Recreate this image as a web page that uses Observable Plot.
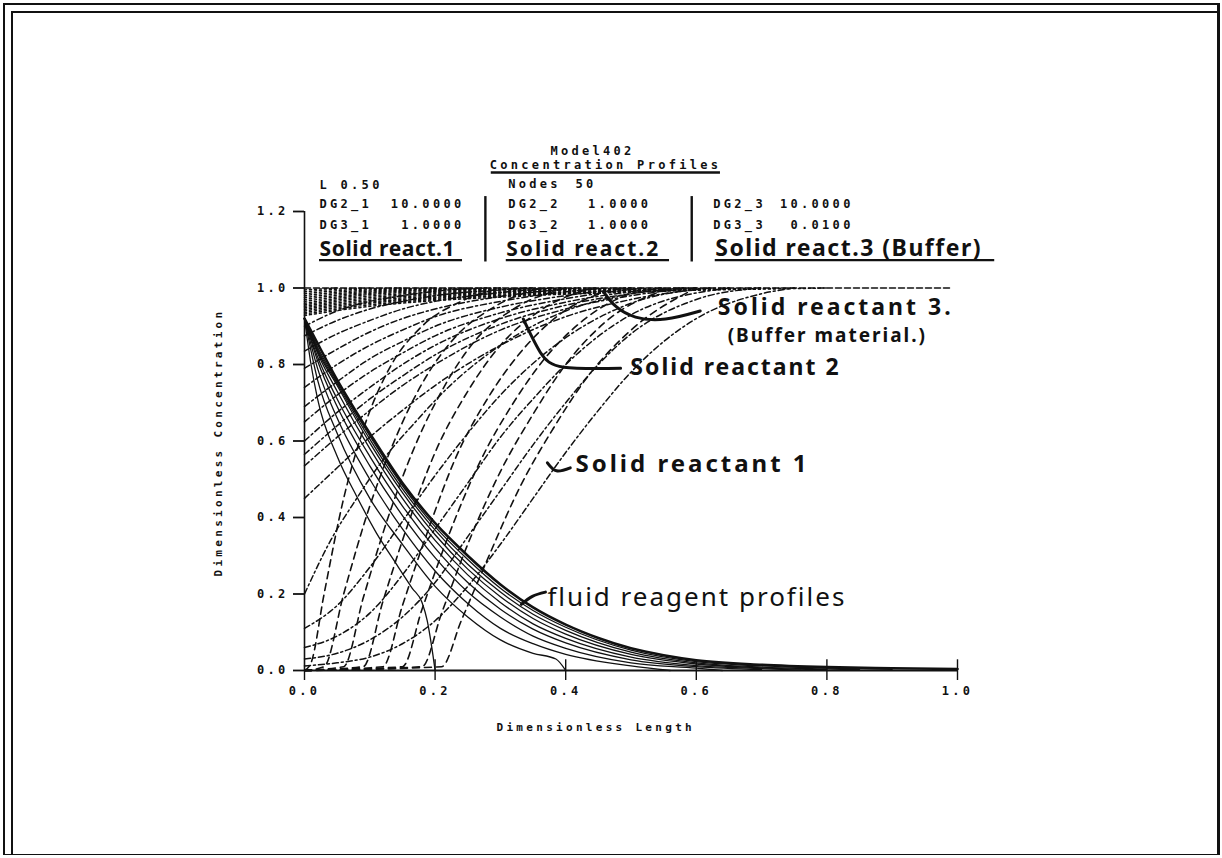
<!DOCTYPE html>
<html>
<head>
<meta charset="utf-8">
<script src="https://cdn.jsdelivr.net/npm/d3@7"></script>
<script src="https://cdn.jsdelivr.net/npm/@observablehq/plot@0.6"></script>
<style>
  html, body { margin: 0; padding: 0; background: #fff; }
  #page { position: relative; width: 1222px; height: 858px; overflow: hidden; background: #fff; }
  #page .edge { position: absolute; background: #111; }
  #page svg { position: absolute; left: 0; top: 0; }
  g[aria-description="print"] text { letter-spacing: 3.3px; }
  g[aria-description="hand-1"] text { letter-spacing: 0.6px; }
  g[aria-description="hand-2"] text { letter-spacing: 2px; }
  g[aria-description="hand-3"] text { letter-spacing: 1.5px; }
  g[aria-description="hand-4"] text { letter-spacing: 3px; }
</style>
</head>
<body>
<div id="page">
  <div class="edge" style="left:3px;top:3px;width:2px;height:852px"></div>
  <div class="edge" style="left:11px;top:11px;width:2px;height:844px"></div>
  <div class="edge" style="left:3px;top:3px;width:1216px;height:2px"></div>
  <div class="edge" style="left:11px;top:11px;width:1208px;height:2px"></div>
  <div class="edge" style="left:1217px;top:3px;width:3px;height:852px"></div>
  <div class="edge" style="left:3px;top:854px;width:1216px;height:1px"></div>
</div>
<script>
// ---- run parameters shown in the header ----
const modelName = "Model402";
const slabLength = 0.50;
const nodeCount = 50;
const dg2 = [10.0, 1.0, 10.0];
const dg3 = [1.0, 1.0, 0.01];
const solidHeadings = ["Solid react.1", "Solid react.2", "Solid react.3 (Buffer)"];

// ---- axes ----
const xTicks = [0, 0.2, 0.4, 0.6, 0.8, 1.0];
const yTicks = [0, 0.2, 0.4, 0.6, 0.8, 1.0, 1.2];

// ---- fluid reagent profiles, successive times (x, concentration) ----
const fluidProfiles = [
  [[0,0.92],[0.01,0.80],[0.02,0.71],[0.05,0.56],[0.08,0.455],[0.11,0.36],[0.14,0.28],[0.165,0.215],[0.18,0.178],[0.188,0.13],[0.195,0.06],[0.2,0]],
  [[0,0.92],[0.02,0.76],[0.05,0.62],[0.1,0.45],[0.15,0.33],[0.2,0.22],[0.25,0.14],[0.3,0.08],[0.35,0.045],[0.385,0.03],[0.4,0]],
  [[0,0.92],[0.02,0.79],[0.05,0.66],[0.1,0.50],[0.15,0.37],[0.2,0.26],[0.25,0.175],[0.3,0.11],[0.35,0.07],[0.4,0.042],[0.5,0.012],[0.56,0]],
  [[0,0.92],[0.02,0.81],[0.05,0.69],[0.1,0.535],[0.15,0.405],[0.2,0.295],[0.25,0.205],[0.3,0.14],[0.35,0.09],[0.4,0.058],[0.5,0.02],[0.6,0.006],[0.64,0]],
  [[0,0.92],[0.02,0.82],[0.05,0.71],[0.1,0.56],[0.15,0.43],[0.2,0.32],[0.25,0.23],[0.3,0.16],[0.35,0.108],[0.4,0.072],[0.5,0.028],[0.6,0.01],[0.7,0.002]],
  [[0,0.92],[0.02,0.83],[0.05,0.73],[0.1,0.58],[0.15,0.45],[0.2,0.34],[0.25,0.25],[0.3,0.178],[0.35,0.122],[0.4,0.084],[0.5,0.035],[0.6,0.013],[0.7,0.005],[0.76,0.001]],
  [[0,0.92],[0.02,0.835],[0.05,0.745],[0.1,0.595],[0.15,0.465],[0.2,0.355],[0.25,0.265],[0.3,0.193],[0.35,0.136],[0.4,0.095],[0.5,0.042],[0.6,0.017],[0.7,0.007],[0.8,0.002]],
  [[0,0.92],[0.02,0.84],[0.05,0.75],[0.1,0.605],[0.15,0.475],[0.2,0.367],[0.25,0.278],[0.3,0.205],[0.35,0.147],[0.4,0.105],[0.5,0.048],[0.6,0.02],[0.7,0.009],[0.8,0.004],[0.85,0.002]],
  [[0,0.92],[0.02,0.845],[0.05,0.755],[0.1,0.613],[0.15,0.483],[0.2,0.376],[0.25,0.29],[0.3,0.215],[0.35,0.157],[0.4,0.113],[0.5,0.053],[0.6,0.023],[0.7,0.012],[0.8,0.006],[0.9,0.003]],
  [[0,0.92],[0.02,0.855],[0.05,0.76],[0.1,0.62],[0.15,0.49],[0.2,0.385],[0.25,0.30],[0.3,0.225],[0.35,0.165],[0.4,0.12],[0.45,0.085],[0.5,0.058],[0.55,0.04],[0.6,0.027],[0.7,0.015],[0.8,0.009],[0.9,0.006],[1.0,0.004]]
];

// ---- solid reactant 1 (fast reaction, sharp fronts) ----
const solid1Profiles = [
  [[0,0],[0.01,0.02],[0.03,0.2],[0.06,0.45],[0.09,0.63],[0.13,0.79],[0.18,0.9],[0.24,0.965],[0.3,1.0]],
  [[0,0],[0.03,0.01],[0.06,0.2],[0.1,0.43],[0.14,0.61],[0.18,0.75],[0.23,0.87],[0.29,0.95],[0.36,1.0]],
  [[0,0],[0.06,0.01],[0.09,0.19],[0.13,0.41],[0.17,0.59],[0.21,0.73],[0.26,0.86],[0.32,0.945],[0.4,1.0]],
  [[0,0],[0.09,0.01],[0.12,0.18],[0.16,0.39],[0.2,0.57],[0.25,0.73],[0.3,0.85],[0.36,0.94],[0.44,1.0]],
  [[0,0],[0.12,0.01],[0.15,0.17],[0.19,0.37],[0.23,0.55],[0.28,0.71],[0.33,0.83],[0.39,0.93],[0.48,1.0]],
  [[0,0],[0.15,0.01],[0.18,0.16],[0.22,0.35],[0.27,0.55],[0.32,0.7],[0.37,0.82],[0.43,0.92],[0.52,1.0]],
  [[0,0],[0.18,0.01],[0.21,0.15],[0.25,0.33],[0.3,0.52],[0.35,0.67],[0.4,0.8],[0.46,0.91],[0.56,1.0]],
  [[0,0],[0.21,0.01],[0.24,0.13],[0.28,0.29],[0.33,0.48],[0.38,0.63],[0.43,0.76],[0.5,0.89],[0.6,1.0]]
];

// ---- solid reactant 2 (moderate reaction, diffuse fronts) ----
const solid2Profiles = [
  [[0,0.90],[0.05,0.94],[0.1,0.965],[0.15,0.98],[0.22,0.995],[0.28,1.0]],
  [[0,0.875],[0.05,0.915],[0.1,0.945],[0.15,0.965],[0.2,0.98],[0.3,0.995],[0.35,1.0]],
  [[0,0.835],[0.05,0.88],[0.1,0.915],[0.15,0.945],[0.2,0.965],[0.3,0.988],[0.38,1.0]],
  [[0,0.79],[0.05,0.84],[0.1,0.885],[0.15,0.92],[0.2,0.945],[0.3,0.978],[0.42,1.0]],
  [[0,0.74],[0.05,0.80],[0.1,0.85],[0.15,0.89],[0.2,0.925],[0.3,0.965],[0.4,0.99],[0.46,1.0]],
  [[0,0.69],[0.05,0.755],[0.1,0.815],[0.15,0.86],[0.2,0.90],[0.3,0.95],[0.4,0.98],[0.5,1.0]],
  [[0,0.65],[0.05,0.72],[0.1,0.78],[0.15,0.83],[0.2,0.875],[0.3,0.935],[0.4,0.972],[0.52,1.0]],
  [[0,0.60],[0.05,0.675],[0.1,0.74],[0.15,0.80],[0.2,0.85],[0.3,0.92],[0.4,0.963],[0.55,1.0]],
  [[0,0.565],[0.05,0.64],[0.1,0.71],[0.15,0.77],[0.2,0.825],[0.3,0.905],[0.4,0.955],[0.5,0.985],[0.58,1.0]],
  [[0,0.535],[0.05,0.61],[0.1,0.68],[0.15,0.745],[0.2,0.80],[0.3,0.89],[0.4,0.945],[0.5,0.98],[0.6,1.0]],
  [[0,0.45],[0.05,0.53],[0.1,0.61],[0.15,0.68],[0.2,0.745],[0.3,0.85],[0.4,0.925],[0.5,0.97],[0.62,1.0]],
  [[0,0.2],[0.04,0.34],[0.08,0.45],[0.12,0.55],[0.17,0.65],[0.22,0.74],[0.3,0.85],[0.4,0.94],[0.5,0.985],[0.58,1.0]],
  [[0,0.11],[0.05,0.17],[0.1,0.27],[0.15,0.39],[0.2,0.51],[0.25,0.62],[0.3,0.72],[0.4,0.87],[0.5,0.96],[0.62,1.0]],
  [[0,0.06],[0.05,0.09],[0.1,0.15],[0.15,0.25],[0.2,0.37],[0.25,0.49],[0.3,0.61],[0.35,0.71],[0.4,0.8],[0.5,0.93],[0.65,1.0]],
  [[0,0.03],[0.05,0.045],[0.1,0.08],[0.15,0.14],[0.2,0.23],[0.25,0.35],[0.3,0.47],[0.35,0.59],[0.4,0.7],[0.45,0.8],[0.5,0.88],[0.6,0.97],[0.7,1.0]],
  [[0,0.012],[0.05,0.02],[0.1,0.035],[0.15,0.07],[0.2,0.13],[0.25,0.22],[0.3,0.33],[0.35,0.45],[0.4,0.57],[0.45,0.68],[0.5,0.78],[0.55,0.86],[0.6,0.92],[0.7,0.985],[0.75,1.0]]
];

// ---- solid reactant 3 (buffer material, very slow reaction) ----
const solid3Profiles = [
  [[0,0.995],[0.05,1.0]],
  [[0,0.99],[0.05,0.997],[0.1,1.0]],
  [[0,0.985],[0.05,0.993],[0.1,0.998],[0.15,1.0]],
  [[0,0.98],[0.05,0.989],[0.1,0.995],[0.2,1.0]],
  [[0,0.975],[0.05,0.985],[0.1,0.992],[0.2,0.998],[0.25,1.0]],
  [[0,0.97],[0.05,0.981],[0.1,0.989],[0.2,0.996],[0.3,1.0]],
  [[0,0.965],[0.05,0.977],[0.1,0.986],[0.2,0.994],[0.3,0.998],[0.35,1.0]],
  [[0,0.96],[0.05,0.973],[0.1,0.983],[0.2,0.991],[0.3,0.997],[0.4,1.0]],
  [[0,0.956],[0.05,0.969],[0.1,0.979],[0.2,0.988],[0.3,0.995],[0.45,1.0]],
  [[0,0.952],[0.05,0.965],[0.1,0.975],[0.2,0.985],[0.3,0.992],[0.4,0.997],[0.5,1.0]],
  [[0,0.948],[0.05,0.961],[0.1,0.971],[0.2,0.982],[0.3,0.989],[0.4,0.995],[0.55,1.0]],
  [[0,0.944],[0.05,0.957],[0.1,0.967],[0.2,0.979],[0.3,0.987],[0.4,0.993],[0.5,0.997],[0.6,1.0]],
  [[0,0.94],[0.05,0.953],[0.1,0.963],[0.2,0.976],[0.3,0.984],[0.4,0.99],[0.5,0.995],[0.65,1.0]],
  [[0,0.936],[0.05,0.949],[0.1,0.96],[0.2,0.973],[0.3,0.981],[0.4,0.988],[0.5,0.993],[0.6,0.997],[0.7,1.0]],
  [[0,0.932],[0.05,0.945],[0.1,0.956],[0.2,0.97],[0.3,0.979],[0.4,0.986],[0.5,0.991],[0.6,0.995],[0.75,1.0]],
  [[0,0.928],[0.05,0.941],[0.1,0.952],[0.2,0.967],[0.3,0.976],[0.4,0.984],[0.5,0.989],[0.6,0.994],[0.7,0.997],[0.8,1.0]]
];

// initial solid level, untouched ahead of every front
const initialLevel = [[0, 1.0], [0.99, 1.0]];

// ---- helpers ----
const toRows = (profiles) =>
  profiles.flatMap((pts, id) => pts.map(([x, y]) => ({x, y, id})));

const PRINT = "DejaVu Sans Mono";
const HAND = "Noto Sans";
const INK = "#111";
const fmt1 = d3.format(".1f");
const fmt4 = (v) => v.toFixed(4);
const print = {fontFamily: PRINT, fontWeight: "bold", fontSize: 12, fill: INK, ariaDescription: "print"};
const hand = (size, spacing, weight = "bold") => ({
  fontFamily: HAND, fontWeight: weight, fontSize: size, fill: INK, ariaDescription: `hand-${spacing}`
});

const header = dg2.map((v, i) => ({
  n: i,
  dg2Name: `DG2_${i + 1}`, dg2Val: fmt4(v),
  dg3Name: `DG3_${i + 1}`, dg3Val: fmt4(dg3[i])
}));
const colName = [0.023, 0.312, 0.626];
const colVal = [0.245, 0.531, 0.841];

const chart = Plot.plot({
  width: 1222,
  height: 858,
  marginLeft: 304,
  marginRight: 265,
  marginTop: 211,
  marginBottom: 188,
  x: {domain: [0, 1], axis: null},
  y: {domain: [0, 1.2], axis: null},
  style: {background: "transparent", overflow: "visible", color: INK},
  marks: [
    // frame lines
    Plot.ruleX([0], {y1: 0, y2: 1.2, stroke: INK, strokeWidth: 1.6}),
    Plot.ruleY([0], {x1: 0, x2: 1, stroke: INK, strokeWidth: 2.2}),

    // y axis
    Plot.axisY(yTicks, {
      tickSize: 11, tickPadding: 5, tickFormat: fmt1, label: null,
      stroke: INK, strokeWidth: 1.8, ...print
    }),
    // x axis: ticks below with labels, plus the upward half of each tick
    Plot.axisX(xTicks, {
      tickSize: 10, tickPadding: 6, tickFormat: fmt1, label: null,
      stroke: INK, strokeWidth: 1.4, ...print
    }),
    Plot.ruleX(xTicks.slice(1), {y1: 0, y2: 0.028, stroke: INK, strokeWidth: 1.4}),

    // axis titles
    Plot.text(["Dimensionless Concentration"], {x: 0, y: 0.596, dx: -86, rotate: -90, ...print, fontSize: 11}),
    Plot.text(["Dimensionless Length"], {x: 0.446, y: -0.15, ...print, fontSize: 11}),

    // solid profiles
    Plot.line(initialLevel, {stroke: INK, strokeWidth: 1.5, strokeDasharray: "6,3"}),
    Plot.line(toRows(solid3Profiles), {
      x: "x", y: "y", z: "id", curve: "monotone-x",
      stroke: INK, strokeWidth: 1.5, strokeDasharray: "2,3"
    }),
    Plot.line(toRows(solid2Profiles), {
      x: "x", y: "y", z: "id", curve: "monotone-x",
      stroke: INK, strokeWidth: 1.5, strokeDasharray: "6,3,2,3"
    }),
    Plot.line(toRows(solid1Profiles), {
      x: "x", y: "y", z: "id", curve: "monotone-x",
      stroke: INK, strokeWidth: 1.6, strokeDasharray: "7,5"
    }),

    // fluid reagent profiles
    Plot.line(toRows(fluidProfiles), {
      x: "x", y: "y", z: "id", curve: "monotone-x",
      stroke: INK, strokeWidth: (d) => (d.id === fluidProfiles.length - 1 ? 2.6 : 1.3)
    }),

    // header block
    Plot.text([modelName], {x: 0.441, y: 1.357, ...print}),
    Plot.text(["Concentration Profiles"], {x: 0.461, y: 1.320, ...print}),
    Plot.ruleY([1.302], {x1: 0.286, x2: 0.637, stroke: INK, strokeWidth: 2.6}),
    Plot.text([`L ${slabLength.toFixed(2)}`], {x: colName[0], y: 1.268, textAnchor: "start", ...print}),
    Plot.text(["Nodes"], {x: colName[1], y: 1.272, textAnchor: "start", ...print}),
    Plot.text([String(nodeCount)], {x: 0.415, y: 1.272, textAnchor: "start", ...print}),
    Plot.text(header, {x: (d) => colName[d.n], y: 1.218, text: "dg2Name", textAnchor: "start", ...print}),
    Plot.text(header, {x: (d) => colVal[d.n], y: 1.218, text: "dg2Val", textAnchor: "end", ...print}),
    Plot.text(header, {x: (d) => colName[d.n], y: 1.165, text: "dg3Name", textAnchor: "start", ...print}),
    Plot.text(header, {x: (d) => colVal[d.n], y: 1.165, text: "dg3Val", textAnchor: "end", ...print}),
    Plot.ruleX([0.277, 0.593], {y1: 1.068, y2: 1.239, stroke: INK, strokeWidth: 2.4}),

    // handwritten column headings, underlined
    Plot.text([solidHeadings[0]], {x: 0.023, y: 1.084, textAnchor: "start", lineAnchor: "bottom", ...hand(21, 1)}),
    Plot.text([solidHeadings[1]], {x: 0.309, y: 1.084, textAnchor: "start", lineAnchor: "bottom", ...hand(21, 2)}),
    Plot.text([solidHeadings[2]], {x: 0.629, y: 1.084, textAnchor: "start", lineAnchor: "bottom", ...hand(23, 3)}),
    Plot.ruleY([1.073, 1.073, 1.073], {x1: [0.023, 0.309, 0.629], x2: [0.242, 0.559, 1.057], stroke: INK, strokeWidth: 2.2}),

    // handwritten annotations
    Plot.text(["Solid reactant 3."], {x: 0.633, y: 0.950, textAnchor: "start", ...hand(23, 4)}),
    Plot.text(["(Buffer material.)"], {x: 0.648, y: 0.876, textAnchor: "start", ...hand(19, 2)}),
    Plot.text(["Solid reactant 2"], {x: 0.499, y: 0.793, textAnchor: "start", ...hand(23, 2)}),
    Plot.text(["Solid reactant 1"], {x: 0.415, y: 0.54, textAnchor: "start", ...hand(24, 4)}),
    Plot.text(["fluid reagent profiles"], {x: 0.372, y: 0.19, textAnchor: "start", ...hand(26, 2, "normal")}),

    // pointer strokes
    Plot.line([[0.458,0.99],[0.476,0.953],[0.507,0.924],[0.553,0.919],[0.606,0.940]], {curve: "natural", stroke: INK, strokeWidth: 3}),
    Plot.line([[0.335,0.919],[0.361,0.832],[0.397,0.793],[0.484,0.79]], {curve: "natural", stroke: INK, strokeWidth: 3}),
    Plot.line([[0.372,0.543],[0.386,0.522],[0.407,0.53]], {curve: "natural", stroke: INK, strokeWidth: 3}),
    Plot.line([[0.332,0.173],[0.349,0.194],[0.369,0.205]], {curve: "natural", stroke: INK, strokeWidth: 3})
  ]
});

document.getElementById("page").appendChild(chart);
</script>
</body>
</html>
